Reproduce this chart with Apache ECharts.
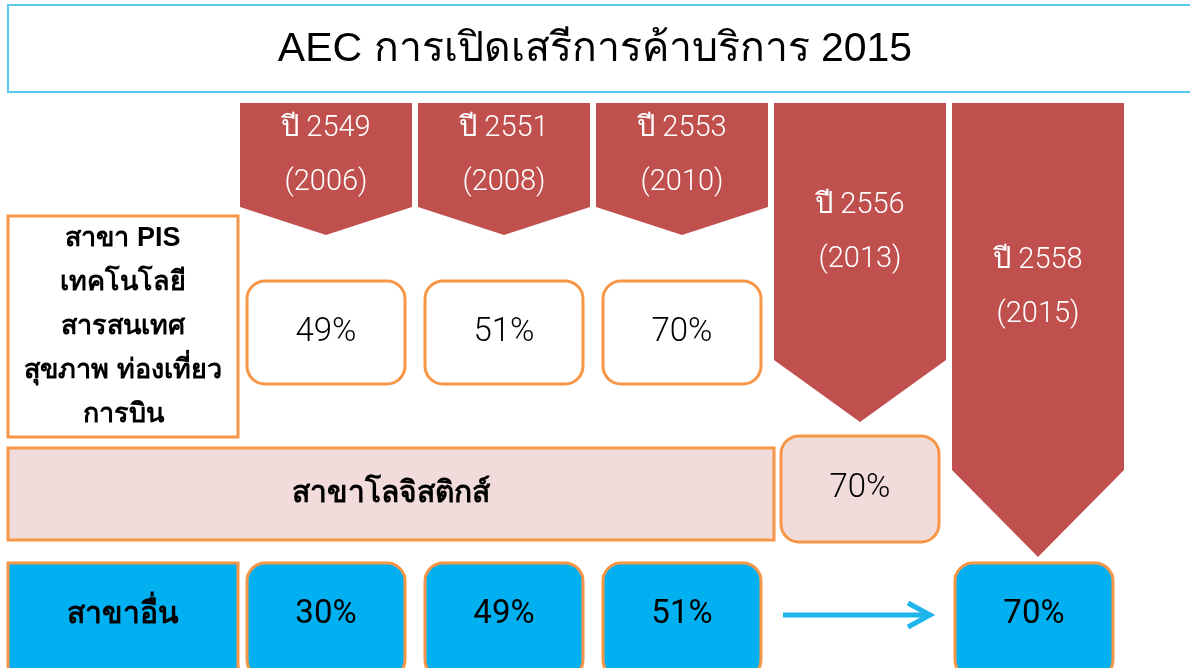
<!DOCTYPE html>
<html>
<head>
<meta charset="utf-8">
<script src="https://cdn.jsdelivr.net/npm/echarts/dist/echarts.min.js"></script>
<style>
    html, body { margin: 0; padding: 0; background: #fff; }
    #chart { width: 1190px; height: 668px; }
</style>
</head>
<body>
<div id="chart"></div>
<script>
// ข้อมูล
const years = ['ปี 2549\n(2006)', 'ปี 2551\n(2008)', 'ปี 2553\n(2010)', 'ปี 2556\n(2013)', 'ปี 2558\n(2015)']
const arrowReach = [0, 0, 0, 1, 2] // แถวที่ลูกศรของแต่ละปีชี้ลงไป
const rowLabels = ['สาขา PIS\nเทคโนโลยี\nสารสนเทศ\nสุขภาพ ท่องเที่ยว\nการบิน', 'สาขาโลจิสติกส์', 'สาขาอื่น']
const itShare = [49, 51, 70, null, null]
const logisticsShare = [null, null, null, 70, null]
const otherShare = [30, 49, 51, null, 70]

const FONT = "'Liberation Sans', 'Noto Sans', sans-serif"
const LIGHT = "Roboto, 'Liberation Sans', sans-serif"
const ORANGE = '#f79646'
const PINK = '#f2dcdb'
const BLUE = '#00b0f0'
const RED = '#c0504d'

// layout ของแต่ละแถว (หน่วยตามแกน y)
const rows = [
    { top: 281, bottom: 384, labelTop: 216, labelBottom: 437, fill: '#fff', labelSize: 27, weight: 300 },
    { top: 436, bottom: 542, labelTop: 448, labelBottom: 540, fill: PINK, labelSize: 30, weight: 300 },
    { top: 563, bottom: 668, labelTop: 563, labelBottom: 672, fill: BLUE, labelSize: 30, weight: 400 }
]
const arrowTop = 103
const arrowBody = [207, 360, 470]
const arrowTip = [235, 422, 557]

const shareData = []
;[itShare, logisticsShare, otherShare].forEach((list, row) => {
    list.forEach((v, col) => {
        if (v != null) shareData.push([col, row, v])
    })
})
const gapData = []
otherShare.forEach((v, i) => {
    if (v == null && i > 0 && otherShare[i + 1] != null) gapData.push([i, 2])
})

function renderYear(params, api) {
    const col = api.value(0)
    const reach = api.value(1)
    const x = api.coord([col, 0])[0]
    const w = api.size([1, 0])[0] - 6
    const yTop = api.coord([col, arrowTop])[1]
    const yBody = api.coord([col, arrowBody[reach]])[1]
    const yTip = api.coord([col, arrowTip[reach]])[1]
    return {
        type: 'group',
        children: [
            {
                type: 'polygon',
                shape: {
                    points: [[x - w / 2, yTop], [x + w / 2, yTop], [x + w / 2, yBody], [x, yTip], [x - w / 2, yBody]]
                },
                style: { fill: RED }
            },
            {
                type: 'text',
                x: x,
                y: (yTop + yBody) / 2 + 1,
                style: {
                    text: years[col],
                    fill: '#fff',
                    font: '300 29px ' + LIGHT,
                    lineHeight: 54,
                    align: 'center',
                    verticalAlign: 'middle'
                }
            }
        ]
    }
}

function renderLabel(params, api) {
    const row = api.value(1)
    const r = rows[row]
    const band = api.size([1, 0])[0]
    const colLeft = api.coord([0, 0])[0] - band / 2
    const left = colLeft - 229
    // โลจิสติกส์ยาวไปถึงปี 2553
    const right = row === 1 ? api.coord([2, 0])[0] + band / 2 + 3 : colLeft + 1
    const y0 = api.coord([0, r.labelTop])[1]
    const y1 = api.coord([0, r.labelBottom])[1]
    return {
        type: 'group',
        children: [
            {
                type: 'rect',
                shape: { x: left, y: y0, width: right - left, height: y1 - y0 },
                style: { fill: r.fill, stroke: ORANGE, lineWidth: 3 }
            },
            {
                type: 'text',
                x: (left + right) / 2,
                y: row === 2 ? 615 : (y0 + y1) / 2,
                style: {
                    text: rowLabels[row],
                    fill: '#000',
                    font: 'bold ' + r.labelSize + 'px ' + FONT,
                    lineHeight: 44,
                    align: 'center',
                    verticalAlign: 'middle'
                }
            }
        ]
    }
}

function renderShare(params, api) {
    const col = api.value(0)
    const row = api.value(1)
    const r = rows[row]
    const x = api.coord([col, 0])[0] - (col === 4 ? 4 : 0)
    const w = api.size([1, 0])[0] - 20
    const y0 = api.coord([col, r.top])[1]
    const y1 = api.coord([col, r.bottom])[1]
    return {
        type: 'group',
        children: [
            {
                type: 'rect',
                shape: { x: x - w / 2, y: y0, width: w, height: y1 - y0 + (row === 2 ? 10 : 0), r: 18 },
                style: { fill: r.fill, stroke: ORANGE, lineWidth: 3 }
            },
            {
                type: 'text',
                x: x,
                y: row === 2 ? 615 : (y0 + y1) / 2,
                style: {
                    text: api.value(2) + '%',
                    fill: '#000',
                    font: r.weight + ' 33px ' + LIGHT,
                    align: 'center',
                    verticalAlign: 'middle'
                }
            }
        ]
    }
}

function renderGap(params, api) {
    const col = api.value(0)
    const band = api.size([1, 0])[0]
    const x = api.coord([col, 0])[0]
    const x0 = x - band / 2 + 12
    const x1 = x + band / 2 - 19
    const y = api.coord([col, 615])[1]
    const style = { stroke: '#1eb4ec', fill: 'none', lineWidth: 5, lineCap: 'butt' }
    return {
        type: 'group',
        children: [
            { type: 'line', shape: { x1: x0, y1: y, x2: x1 - 3, y2: y }, style: style },
            { type: 'polyline', shape: { points: [[x1 - 22, y - 12], [x1, y], [x1 - 22, y + 12]] }, style: style }
        ]
    }
}

const chart = echarts.init(document.getElementById('chart'))
chart.setOption({
    animation: false,
    title: {
        text: 'AEC การเปิดเสรีการค้าบริการ 2015',
        left: 'center',
        top: 24,
        textStyle: { fontFamily: FONT, fontSize: 41, fontWeight: 'normal', color: '#000' }
    },
    graphic: [
        {
            type: 'rect',
            shape: { x: 8, y: 5, width: 1200, height: 87 },
            style: { fill: 'none', stroke: '#5bc8f0', lineWidth: 2 }
        }
    ],
    grid: { left: 237, right: 63, top: 0, bottom: 0 },
    xAxis: { type: 'category', data: years, show: false },
    yAxis: { type: 'value', min: 0, max: 668, inverse: true, show: false },
    series: [
        { type: 'custom', name: 'years', renderItem: renderYear, data: years.map((y, i) => [i, arrowReach[i]]) },
        { type: 'custom', name: 'rows', renderItem: renderLabel, data: rowLabels.map((l, i) => [0, i]) },
        { type: 'custom', name: 'shares', renderItem: renderShare, data: shareData },
        { type: 'custom', name: 'trend', renderItem: renderGap, data: gapData }
    ]
})
</script>
</body>
</html>
